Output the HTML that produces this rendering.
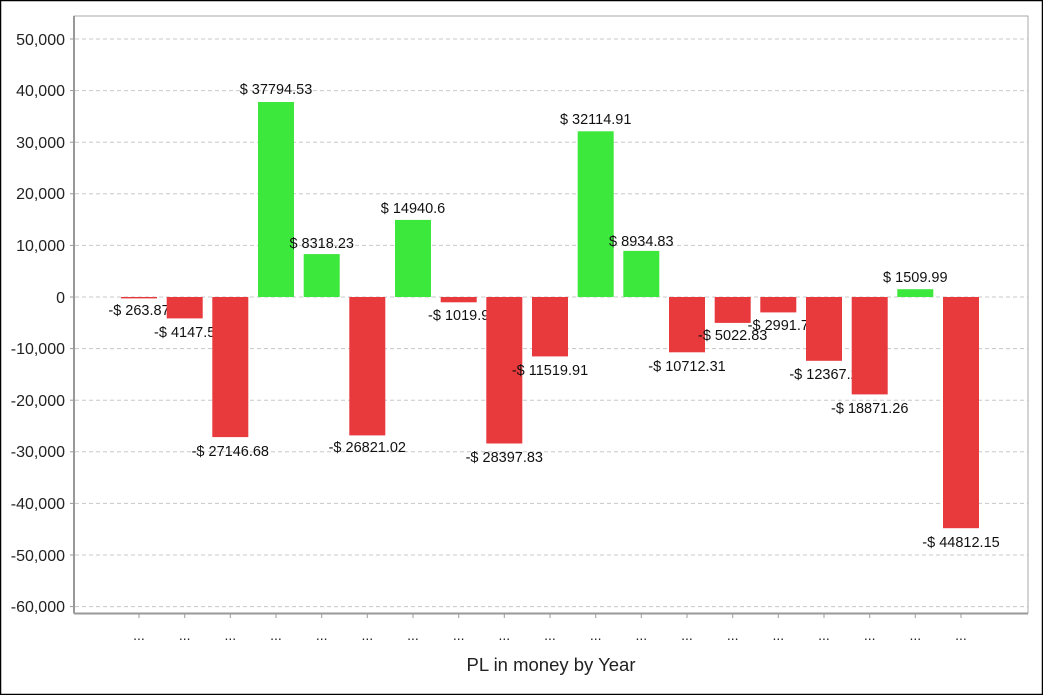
<!DOCTYPE html>
<html><head><meta charset="utf-8"><style>
html,body{margin:0;padding:0;background:#fff}
svg{display:block;font-family:"Liberation Sans",Arial,sans-serif}
</style></head><body>
<svg width="1043" height="695" viewBox="0 0 1043 695" xmlns="http://www.w3.org/2000/svg">
<rect x="0.5" y="0.5" width="1042" height="694" fill="#fff" stroke="#000" stroke-width="1.5"/>
<g stroke="#c8c8c8" stroke-dasharray="4,3" stroke-width="1">
<line x1="75" x2="1028" y1="39" y2="39"/><line x1="75" x2="1028" y1="90.6" y2="90.6"/>
<line x1="75" x2="1028" y1="142.2" y2="142.2"/><line x1="75" x2="1028" y1="193.8" y2="193.8"/>
<line x1="75" x2="1028" y1="245.4" y2="245.4"/><line x1="75" x2="1028" y1="297" y2="297"/>
<line x1="75" x2="1028" y1="348.6" y2="348.6"/><line x1="75" x2="1028" y1="400.2" y2="400.2"/>
<line x1="75" x2="1028" y1="451.8" y2="451.8"/><line x1="75" x2="1028" y1="503.4" y2="503.4"/>
<line x1="75" x2="1028" y1="555" y2="555"/><line x1="75" x2="1028" y1="606.6" y2="606.6"/>
</g>
<rect x="74" y="16" width="954" height="597" fill="none" stroke="#a8a8a8" stroke-width="1"/>
<line x1="74" y1="16" x2="74" y2="613.5" stroke="#999" stroke-width="2"/>
<line x1="74" y1="613.5" x2="1028" y2="613.5" stroke="#999" stroke-width="2"/>
<g font-size="16" fill="#222" text-anchor="end">
<text x="65" y="45">50,000</text><text x="65" y="96">40,000</text><text x="65" y="148">30,000</text>
<text x="65" y="199">20,000</text><text x="65" y="251">10,000</text><text x="65" y="303">0</text>
<text x="65" y="354">-10,000</text><text x="65" y="406">-20,000</text><text x="65" y="457">-30,000</text>
<text x="65" y="509">-40,000</text><text x="65" y="561">-50,000</text><text x="65" y="612">-60,000</text>
</g>
<g stroke="#999" stroke-width="1">
<line x1="70" x2="74" y1="39" y2="39"/><line x1="70" x2="74" y1="90.6" y2="90.6"/><line x1="70" x2="74" y1="142.2" y2="142.2"/><line x1="70" x2="74" y1="193.8" y2="193.8"/><line x1="70" x2="74" y1="245.4" y2="245.4"/><line x1="70" x2="74" y1="297" y2="297"/><line x1="70" x2="74" y1="348.6" y2="348.6"/><line x1="70" x2="74" y1="400.2" y2="400.2"/><line x1="70" x2="74" y1="451.8" y2="451.8"/><line x1="70" x2="74" y1="503.4" y2="503.4"/><line x1="70" x2="74" y1="555" y2="555"/><line x1="70" x2="74" y1="606.6" y2="606.6"/>
</g>
<g font-size="14.5" fill="#111" text-anchor="middle">
<rect x="121" y="297" width="36" height="1.4" fill="#e8393d"/><text x="139" y="315">-$ 263.87</text>
<rect x="166.7" y="297" width="36" height="21.4" fill="#e8393d"/><text x="184.7" y="337">-$ 4147.5</text>
<rect x="212.3" y="297" width="36" height="140.1" fill="#e8393d"/><text x="230.3" y="456">-$ 27146.68</text>
<rect x="258" y="102" width="36" height="195" fill="#3de83d"/><text x="276" y="94">$ 37794.53</text>
<rect x="303.7" y="254.1" width="36" height="42.9" fill="#3de83d"/><text x="321.7" y="248">$ 8318.23</text>
<rect x="349.3" y="297" width="36" height="138.4" fill="#e8393d"/><text x="367.3" y="452">-$ 26821.02</text>
<rect x="395" y="219.9" width="36" height="77.1" fill="#3de83d"/><text x="413" y="213">$ 14940.6</text>
<rect x="440.7" y="297" width="36" height="5.3" fill="#e8393d"/><text x="458.7" y="320">-$ 1019.9</text>
<rect x="486.3" y="297" width="36" height="146.5" fill="#e8393d"/><text x="504.3" y="462">-$ 28397.83</text>
<rect x="532" y="297" width="36" height="59.4" fill="#e8393d"/><text x="550" y="375">-$ 11519.91</text>
<rect x="577.7" y="131.3" width="36" height="165.7" fill="#3de83d"/><text x="595.7" y="124">$ 32114.91</text>
<rect x="623.3" y="250.9" width="36" height="46.1" fill="#3de83d"/><text x="641.3" y="246">$ 8934.83</text>
<rect x="669" y="297" width="36" height="55.3" fill="#e8393d"/><text x="687" y="371">-$ 10712.31</text>
<rect x="714.7" y="297" width="36" height="25.9" fill="#e8393d"/><text x="732.7" y="340">-$ 5022.83</text>
<rect x="760.3" y="297" width="36" height="15.4" fill="#e8393d"/><text x="778.3" y="330">-$ 2991.7</text>
<rect x="806" y="297" width="36" height="63.8" fill="#e8393d"/><text x="824" y="379">-$ 12367.2</text>
<rect x="851.7" y="297" width="36" height="97.4" fill="#e8393d"/><text x="869.7" y="413">-$ 18871.26</text>
<rect x="897.3" y="289.2" width="36" height="7.8" fill="#3de83d"/><text x="915.3" y="282">$ 1509.99</text>
<rect x="943" y="297" width="36" height="231.2" fill="#e8393d"/><text x="961" y="547">-$ 44812.15</text>
</g>
<g stroke="#999" stroke-width="1">
<line x1="139" x2="139" y1="613" y2="618"/><line x1="184.7" x2="184.7" y1="613" y2="618"/><line x1="230.3" x2="230.3" y1="613" y2="618"/><line x1="276" x2="276" y1="613" y2="618"/><line x1="321.7" x2="321.7" y1="613" y2="618"/><line x1="367.3" x2="367.3" y1="613" y2="618"/><line x1="413" x2="413" y1="613" y2="618"/><line x1="458.7" x2="458.7" y1="613" y2="618"/><line x1="504.3" x2="504.3" y1="613" y2="618"/><line x1="550" x2="550" y1="613" y2="618"/><line x1="595.7" x2="595.7" y1="613" y2="618"/><line x1="641.3" x2="641.3" y1="613" y2="618"/><line x1="687" x2="687" y1="613" y2="618"/><line x1="732.7" x2="732.7" y1="613" y2="618"/><line x1="778.3" x2="778.3" y1="613" y2="618"/><line x1="824" x2="824" y1="613" y2="618"/><line x1="869.7" x2="869.7" y1="613" y2="618"/><line x1="915.3" x2="915.3" y1="613" y2="618"/><line x1="961" x2="961" y1="613" y2="618"/>
</g>
<g font-size="14" fill="#222" text-anchor="middle">
<text x="139" y="640">...</text><text x="184.7" y="640">...</text><text x="230.3" y="640">...</text><text x="276" y="640">...</text><text x="321.7" y="640">...</text><text x="367.3" y="640">...</text><text x="413" y="640">...</text><text x="458.7" y="640">...</text><text x="504.3" y="640">...</text><text x="550" y="640">...</text><text x="595.7" y="640">...</text><text x="641.3" y="640">...</text><text x="687" y="640">...</text><text x="732.7" y="640">...</text><text x="778.3" y="640">...</text><text x="824" y="640">...</text><text x="869.7" y="640">...</text><text x="915.3" y="640">...</text><text x="961" y="640">...</text>
</g>
<text x="551" y="671" font-size="18.5" fill="#222" text-anchor="middle">PL in money by Year</text>
</svg>
</body></html>
